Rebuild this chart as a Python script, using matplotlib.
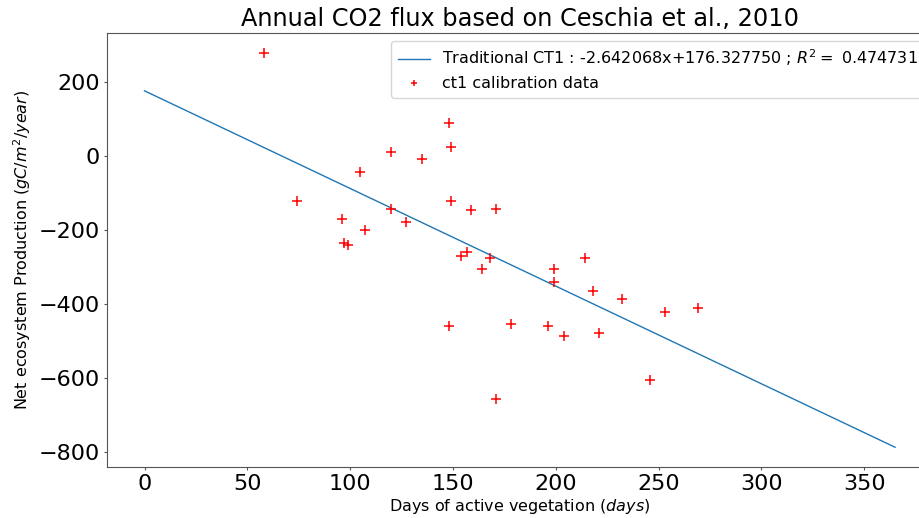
import numpy as np
import matplotlib
matplotlib.use('Agg')
import matplotlib.pyplot as plt

# days of active vegetation / NEP
days = [58, 74, 96, 97, 99, 105, 107, 120, 120, 127, 135, 148, 149, 149, 148,
        154, 157, 159, 164, 168, 171, 171, 178, 196, 199, 199, 204, 214, 218,
        221, 232, 246, 253, 269]
nep = [279, -123, -170, -236, -241, -43, -201, 11, -144, -179, -8, 88, 25, -122,
       -460, -270, -259, -146, -305, -276, -143, -657, -455, -460, -305, -342,
       -487, -275, -364, -478, -387, -605, -422, -412]

slope = -2.642068
intercept = 176.327750
r2 = 0.474731

xfit = np.linspace(0, 365, 100)
yfit = slope * xfit + intercept

fig = plt.figure(figsize=(9.2, 5.18), dpi=100)
ax = fig.add_axes([0.1163, 0.0985, 0.8974, 0.8375])

ax.plot(xfit, yfit, color='#1f77b4', lw=1,
        label=r'Traditional CT1 : %fx+%f ; $R^2=$ %f' % (slope, intercept, r2))
ax.plot(days, nep, '+', color='red', ms=7, mew=1.1, label='ct1 calibration data')

ax.set_title('Annual CO2 flux based on Ceschia et al., 2010', fontsize=17.3, pad=5)
ax.set_xlabel('Days of active vegetation ($days$)', fontsize=11.5, labelpad=2)
ax.set_ylabel('Net ecosystem Production ($gC/m^2/year$)', fontsize=11.5)
ax.tick_params(labelsize=16, length=2.5, pad=2.5, color='#555555')
ax.set_xticks([0, 50, 100, 150, 200, 250, 300, 350])
ax.set_yticks([-800, -600, -400, -200, 0, 200])
ax.legend(loc='upper right', fontsize=11.5, markerscale=0.7)

for s in ax.spines.values():
    s.set_color('#555555')

plt.savefig('out.png', dpi=100)
